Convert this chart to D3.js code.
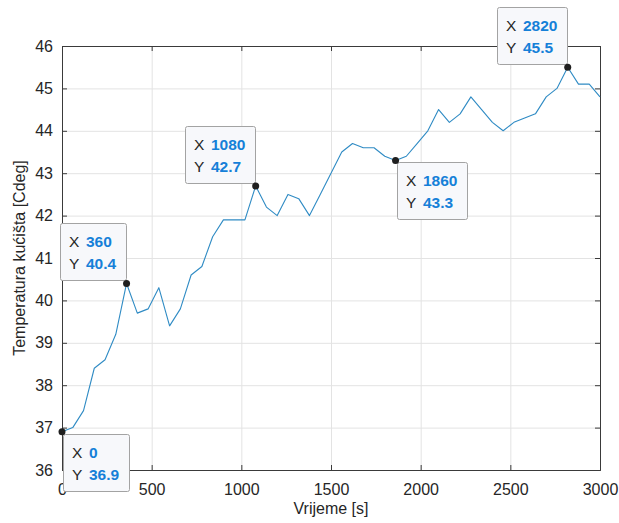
<!DOCTYPE html>
<html>
<head>
<meta charset="utf-8">
<script src="https://cdn.jsdelivr.net/npm/d3@7/dist/d3.min.js"></script>
<style>
  body { margin: 0; background: #fff; }
  svg { font-family: Arial, "Liberation Sans", Helvetica, sans-serif; }
  .tick-label { font-size: 16px; fill: #262626; }
  .axis-title { font-size: 16px; fill: #262626; }
  .grid line { stroke: #e3e3e3; stroke-width: 1; }
  .tip rect { fill: #f7f8fb; stroke: #a3a3a3; stroke-width: 1; }
  .tip text { font-size: 15.5px; fill: #262626; }
  .tip tspan.val { font-weight: bold; fill: #1580d8; }
</style>
</head>
<body>
<svg width="619" height="523"></svg>
<script>
// samples, every 60 s
const timeSec = [0, 60, 120, 180, 240, 300, 360, 420, 480, 540,
                 600, 660, 720, 780, 840, 900, 960, 1020, 1080, 1140,
                 1200, 1260, 1320, 1380, 1440, 1500, 1560, 1620, 1680, 1740,
                 1800, 1860, 1920, 1980, 2040, 2100, 2160, 2220, 2280, 2340,
                 2400, 2460, 2520, 2580, 2640, 2700, 2760, 2820, 2880, 2940,
                 3000];
const tempC = [36.9, 37.0, 37.4, 38.4, 38.6, 39.2, 40.4, 39.7, 39.8, 40.3,
               39.4, 39.8, 40.6, 40.8, 41.5, 41.9, 41.9, 41.9, 42.7, 42.2,
               42.0, 42.5, 42.4, 42.0, 42.5, 43.0, 43.5, 43.7, 43.6, 43.6,
               43.4, 43.3, 43.4, 43.7, 44.0, 44.5, 44.2, 44.4, 44.8, 44.5,
               44.2, 44.0, 44.2, 44.3, 44.4, 44.8, 45.0, 45.5, 45.1, 45.1,
               44.8];
const xTicks = [0, 500, 1000, 1500, 2000, 2500, 3000];
const yTicks = [36, 37, 38, 39, 40, 41, 42, 43, 44, 45, 46];
const tipTimes = [0, 360, 1080, 1860, 2820];

(function (d3) {
    'use strict';
    const svg = d3.select('svg');
    const margin = { left: 62, right: 19, top: 46, bottom: 53 };
    const width = 619 - margin.left - margin.right;
    const height = 523 - margin.top - margin.bottom;

    const x = d3.scaleLinear().domain([0, 3000]).range([0, width]);
    const y = d3.scaleLinear().domain([36, 46]).range([height, 0]);

    const g = svg.append('g')
        .attr('transform', `translate(${margin.left},${margin.top})`);

    // grid
    const grid = g.append('g').attr('class', 'grid');
    grid.selectAll('.gx').data(xTicks.slice(1, -1))
      .enter().append('line')
        .attr('x1', d => x(d) + 0.5).attr('x2', d => x(d) + 0.5)
        .attr('y1', 0).attr('y2', height);
    grid.selectAll('.gy').data(yTicks.slice(1, -1))
      .enter().append('line')
        .attr('y1', d => y(d) + 0.5).attr('y2', d => y(d) + 0.5)
        .attr('x1', 0).attr('x2', width);

    // axes, MATLAB style: box with inward ticks
    const axisColor = '#3a3a3a';
    const tickLen = 5;
    const axisLeft = g.append('g')
        .call(d3.axisLeft(y).tickValues(yTicks).tickSize(-tickLen).tickPadding(9));
    const axisRight = g.append('g').attr('transform', `translate(${width},0)`)
        .call(d3.axisRight(y).tickValues(yTicks).tickSize(-tickLen).tickFormat(''));
    const axisBottom = g.append('g').attr('transform', `translate(0,${height})`)
        .call(d3.axisBottom(x).tickValues(xTicks).tickSize(-tickLen)
            .tickPadding(14).tickFormat(d3.format('d')));
    const axisTop = g.append('g')
        .call(d3.axisTop(x).tickValues(xTicks).tickSize(-tickLen).tickFormat(''));

    [axisLeft, axisRight, axisBottom, axisTop].forEach(a => {
        a.select('.domain').attr('stroke', axisColor).attr('stroke-width', 1);
        a.selectAll('.tick line').attr('stroke', axisColor);
        a.selectAll('.tick text')
            .attr('class', 'tick-label')
            .attr('fill', null);
        a.attr('font-size', null).attr('font-family', null);
    });

    // data line
    const points = timeSec.map((t, i) => ({ t, v: tempC[i] }));
    g.append('path')
        .datum(points)
        .attr('fill', 'none')
        .attr('stroke', '#2f8bc4')
        .attr('stroke-width', 1.1)
        .attr('stroke-linejoin', 'round')
        .attr('d', d3.line().x(d => x(d.t)).y(d => y(d.v)));

    // axis titles
    svg.append('text')
        .attr('class', 'axis-title')
        .attr('text-anchor', 'middle')
        .attr('x', margin.left + width / 2)
        .attr('y', 514)
        .text('Vrijeme [s]');
    svg.append('text')
        .attr('class', 'axis-title')
        .attr('text-anchor', 'middle')
        .attr('transform', `translate(25,${margin.top + height / 2}) rotate(-90)`)
        .text('Temperatura kućišta [Cdeg]');

    // data tips
    const tipSide = ['br', 'tl', 'tl', 'br', 'tl'];
    const fmtV = d3.format('.1f');
    const tips = tipTimes.map((t, i) => {
        const p = points.find(d => d.t === t);
        return { t, v: p.v, side: tipSide[i] };
    });

    const tipG = g.selectAll('.tip').data(tips)
      .enter().append('g')
        .attr('class', 'tip');

    tipG.each(function (d) {
        const sel = d3.select(this);
        const px = x(d.t), py = y(d.v);
        const rect = sel.append('rect').attr('rx', 2).attr('ry', 2);
        const t1 = sel.append('text').attr('y', 24);
        t1.append('tspan').attr('x', 9).text('X');
        const v1 = t1.append('tspan').attr('class', 'val').attr('x', 26).text(d.t);
        const t2 = sel.append('text').attr('y', 46);
        t2.append('tspan').attr('x', 9).text('Y');
        const v2 = t2.append('tspan').attr('class', 'val').attr('x', 26).text(fmtV(d.v));
        const textW = Math.max(v1.node().getComputedTextLength(), v2.node().getComputedTextLength());
        const w = Math.round(26 + textW + 10);
        const h = 57;
        rect.attr('x', 0.5).attr('y', 0.5).attr('width', w).attr('height', h);
        const bx = d.side === 'br' ? px + 1 : px - w - 1;
        const by = d.side === 'br' ? py + 2 : py - h - 3;
        sel.attr('transform', `translate(${Math.round(bx)},${Math.round(by)})`);
    });

    g.selectAll('.tip-dot').data(tips)
      .enter().append('circle')
        .attr('cx', d => x(d.t))
        .attr('cy', d => y(d.v))
        .attr('r', 3.5)
        .attr('fill', '#1f1f1f');
}(d3));
</script>
</body>
</html>
